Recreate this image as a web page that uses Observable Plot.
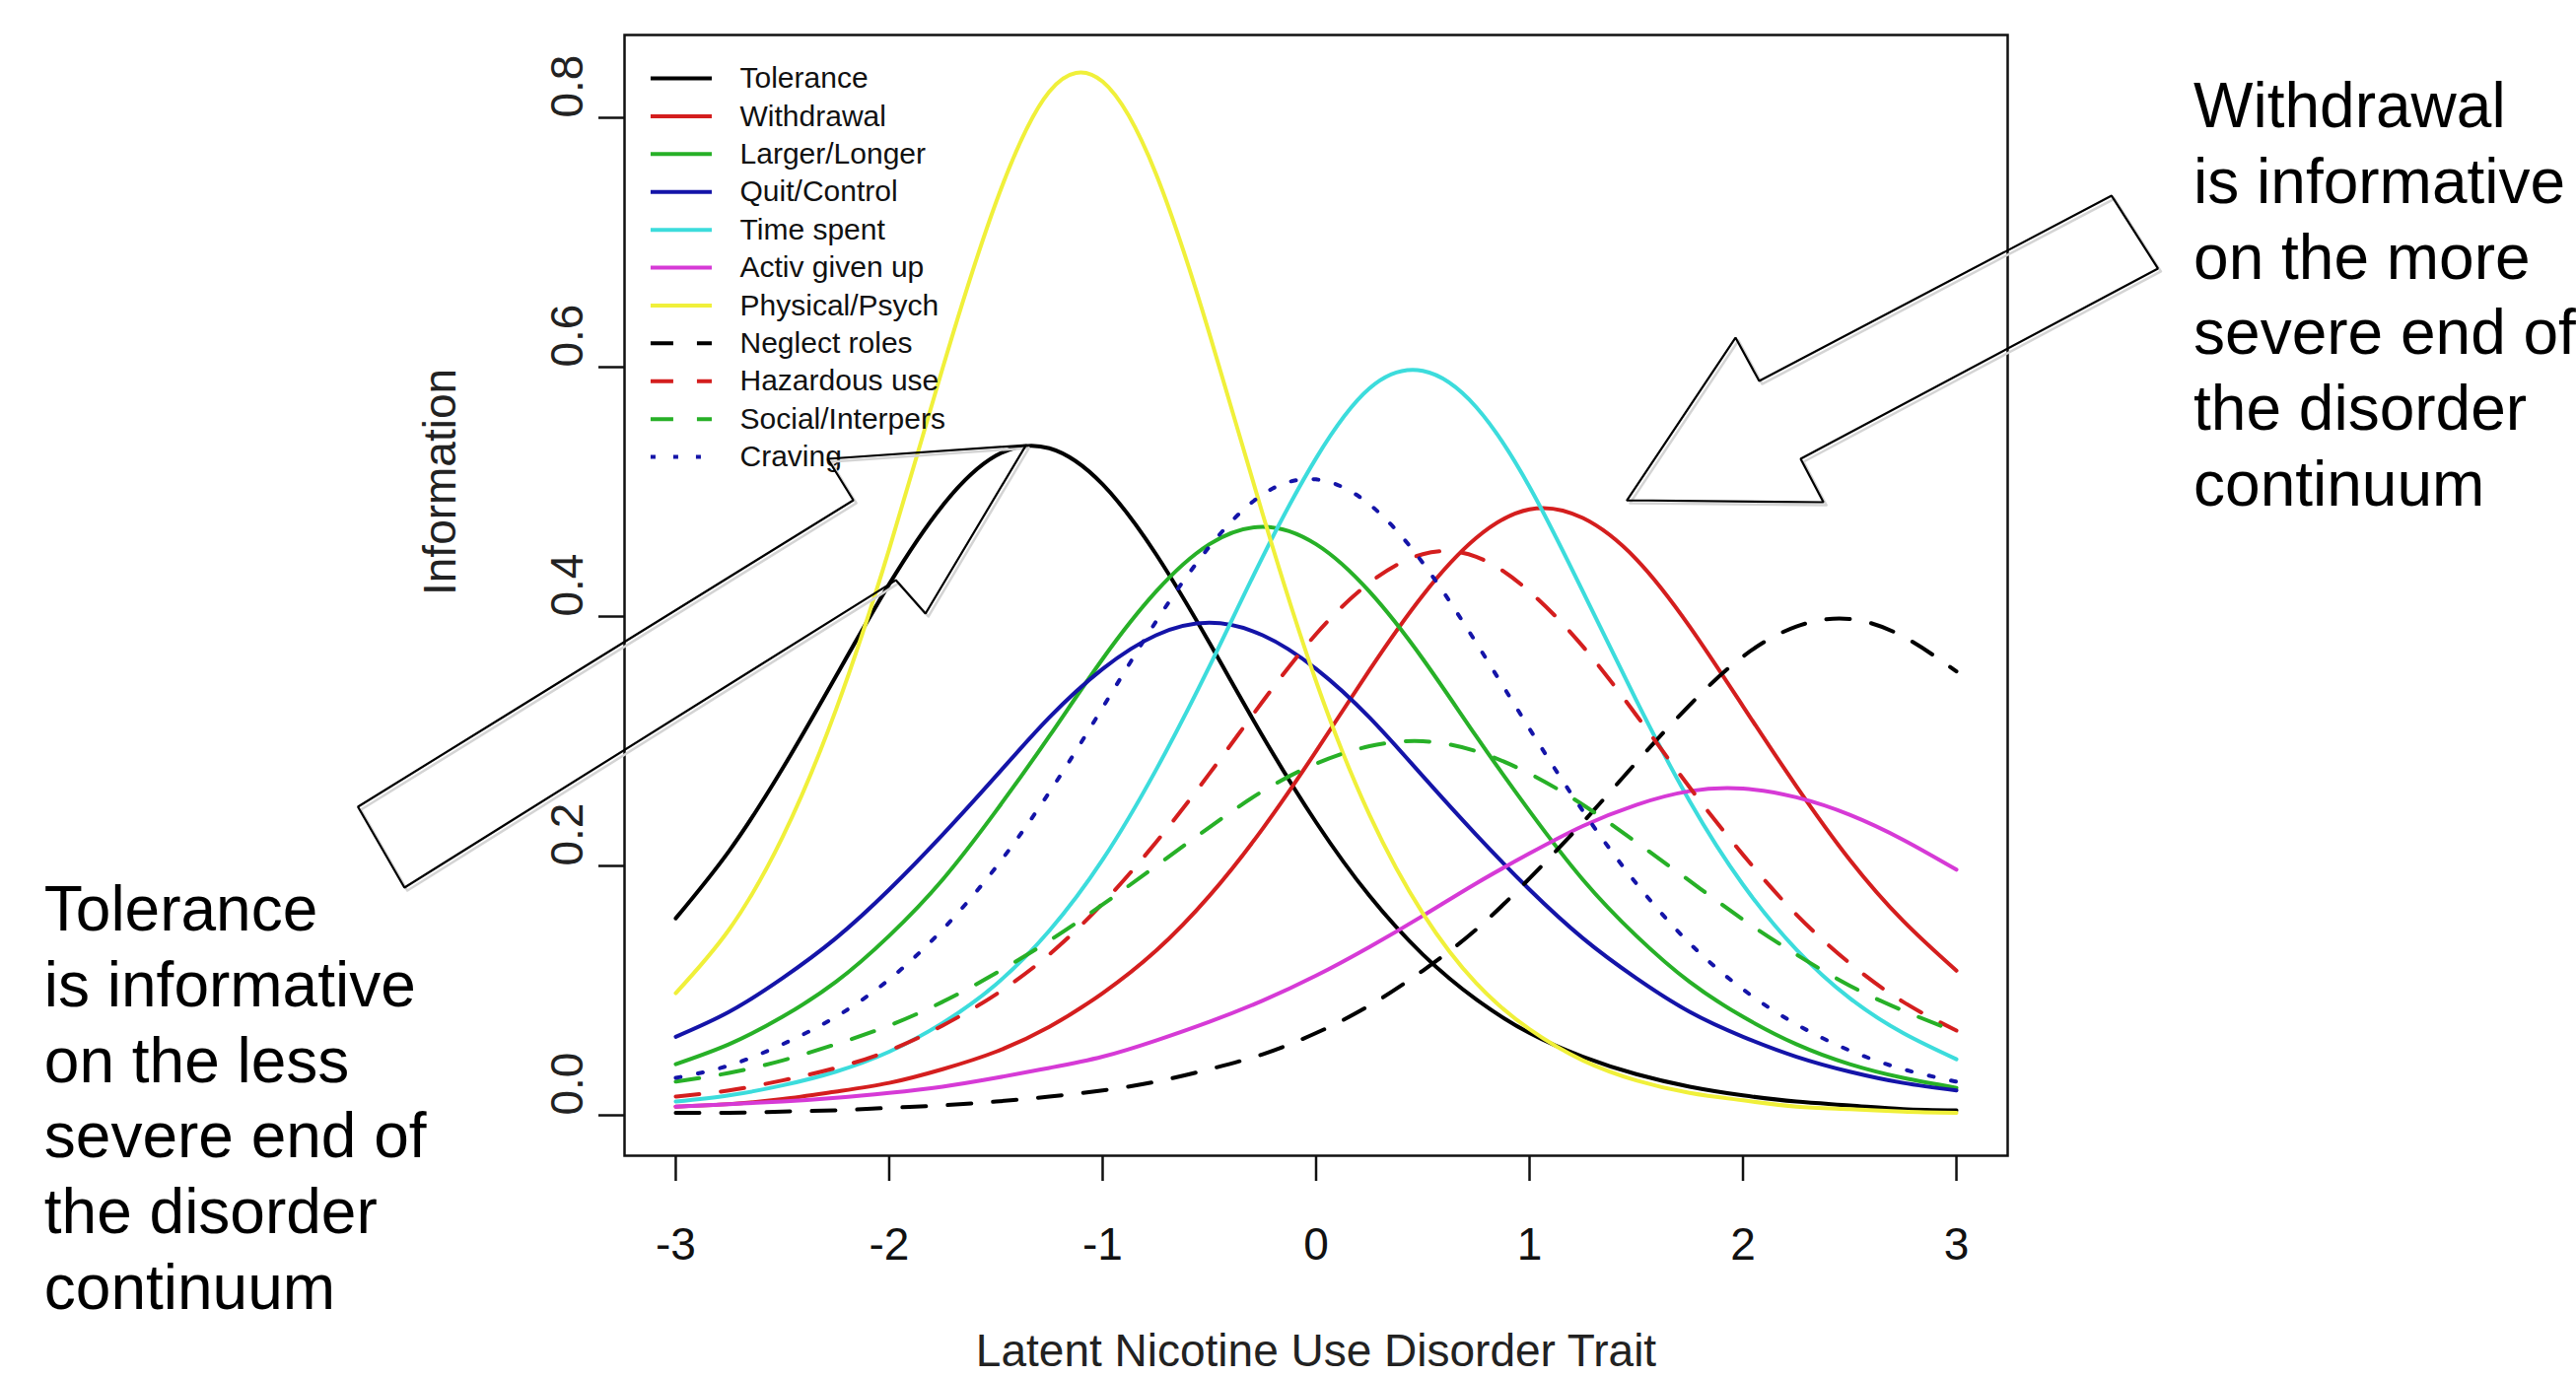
<!DOCTYPE html>
<html><head><meta charset="utf-8">
<script src="https://cdn.jsdelivr.net/npm/d3@7"></script>
<script src="https://cdn.jsdelivr.net/npm/@observablehq/plot@0.6"></script>
<style>body{margin:0;background:#fff}</style>
</head><body><div id="chart"></div>
<script>
// ---- data ----
const theta = [-3,-2.75,-2.5,-2.25,-2,-1.75,-1.5,-1.25,-1,-0.75,-0.5,-0.25,0,0.25,0.5,0.75,1,1.25,1.5,1.75,2,2.25,2.5,2.75,3];
const tolerance  = [0.158,0.212,0.278,0.352,0.426,0.489,0.529,0.535,0.506,0.450,0.379,0.304,0.235,0.176,0.129,0.093,0.066,0.047,0.033,0.023,0.016,0.011,0.008,0.005,0.004];
const withdrawal = [0.007,0.009,0.013,0.019,0.026,0.037,0.051,0.071,0.098,0.132,0.176,0.230,0.292,0.357,0.417,0.463,0.486,0.479,0.446,0.392,0.328,0.264,0.205,0.156,0.116];
const largerLonger = [0.041,0.057,0.079,0.107,0.144,0.189,0.244,0.304,0.366,0.420,0.458,0.472,0.458,0.420,0.366,0.304,0.244,0.189,0.144,0.107,0.079,0.057,0.041,0.030,0.022];
const quitControl = [0.063,0.083,0.110,0.142,0.181,0.225,0.272,0.319,0.358,0.385,0.395,0.385,0.358,0.319,0.272,0.225,0.181,0.142,0.110,0.083,0.063,0.047,0.035,0.026,0.020];
const timeSpent  = [0.011,0.016,0.024,0.035,0.051,0.074,0.105,0.148,0.205,0.277,0.360,0.448,0.527,0.583,0.597,0.568,0.504,0.420,0.333,0.252,0.185,0.133,0.094,0.066,0.045];
const activGivenUp = [0.007,0.009,0.011,0.014,0.018,0.023,0.030,0.038,0.047,0.060,0.075,0.092,0.112,0.135,0.160,0.186,0.210,0.232,0.249,0.260,0.262,0.255,0.241,0.221,0.197];
const physicalPsych = [0.098,0.149,0.223,0.325,0.454,0.599,0.732,0.821,0.829,0.755,0.627,0.482,0.348,0.241,0.162,0.106,0.069,0.044,0.028,0.018,0.012,0.007,0.005,0.003,0.002];
const neglectRoles = [0.002,0.002,0.003,0.004,0.006,0.008,0.011,0.015,0.020,0.027,0.037,0.049,0.066,0.088,0.116,0.149,0.190,0.235,0.283,0.329,0.368,0.392,0.398,0.384,0.356];
const hazardousUse = [0.015,0.020,0.028,0.038,0.052,0.072,0.097,0.129,0.170,0.219,0.274,0.332,0.386,0.427,0.450,0.448,0.420,0.376,0.321,0.263,0.209,0.161,0.122,0.091,0.068];
const socialInterpers = [0.027,0.034,0.044,0.057,0.072,0.091,0.114,0.140,0.169,0.200,0.231,0.260,0.282,0.296,0.300,0.292,0.274,0.249,0.219,0.188,0.157,0.129,0.104,0.084,0.067];
const craving = [0.030,0.040,0.057,0.079,0.109,0.149,0.199,0.259,0.327,0.396,0.456,0.498,0.510,0.490,0.443,0.379,0.310,0.244,0.186,0.138,0.101,0.073,0.052,0.037,0.027];

const seriesNames = ["Tolerance","Withdrawal","Larger/Longer","Quit/Control","Time spent","Activ given up","Physical/Psych","Neglect roles","Hazardous use","Social/Interpers","Craving"];
const seriesValues = [tolerance,withdrawal,largerLonger,quitControl,timeSpent,activGivenUp,physicalPsych,neglectRoles,hazardousUse,socialInterpers,craving];
const seriesColors = ["#000000","#D41E1E","#27B027","#1414A8","#3CDCDC","#D63AD6","#F0F03A","#000000","#D41E1E","#27B027","#1414A8"];
const seriesDash = [null,null,null,null,null,null,null,"24,22","24,22","24,22","5,18"];
const legendDash = [null,null,null,null,null,null,null,"23,24","23,24","23,24","5,18"];

const xTicks = [-3,-2,-1,0,1,2,3];
const yTicks = [0,0.2,0.4,0.6,0.8];
const xTitle = "Latent Nicotine Use Disorder Trait";
const yTitle = "Information";

const leftNote = ["Tolerance","is informative","on the less","severe end of","the disorder","continuum"];
const rightNote = ["Withdrawal","is informative","on the more","severe end of","the disorder","continuum"];

// annotation block arrows, in data units
const leftArrow = [[-1.359,0.5375],[-2.288,0.5265],[-2.168,0.4933],[-4.489,0.2474],[-4.271,0.1826],[-1.969,0.4292],[-1.830,0.4024],[-1.359,0.5375]];
const rightArrow = [[1.457,0.4933],[2.377,0.4917],[2.270,0.5265],[3.944,0.6791],[3.727,0.7375],[2.076,0.5889],[1.965,0.6237],[1.457,0.4933]];

// ---- build ----
const font = "'Liberation Sans', Arial, sans-serif";
const rows = seriesNames.map((name, s) => theta.map((t, i) => ({name, theta: t, info: seriesValues[s][i]})));

const legendTop = 0.8316, legendStep = 0.03036;
const legendRows = seriesNames.map((name, i) => ({name, i, y: legendTop - legendStep * i}));

const curveMarks = rows.map((r, s) => Plot.line(r, {
  x: "theta", y: "info", stroke: seriesColors[s], strokeWidth: 4,
  strokeDasharray: seriesDash[s] || undefined, curve: "natural"
}));
const legendLineMarks = legendRows.map((d, s) => Plot.ruleY([d], {
  y: "y", x1: () => -3.1156, x2: () => -2.829, stroke: seriesColors[s], strokeWidth: 4,
  strokeDasharray: legendDash[s] || undefined
}));

const arrowMarks = [leftArrow, rightArrow].flatMap(a => [
  Plot.line(a, {x: d => d[0], y: d => d[1], stroke: "#d4d4d4", strokeWidth: 2.5, dx: 3, dy: 3, fill: "none"}),
  Plot.line(a, {x: d => d[0], y: d => d[1], stroke: "#000", strokeWidth: 2.2, fill: "none", strokeLinejoin: "miter"})
]);

const chart = Plot.plot({
  width: 2613, height: 1397,
  marginLeft: 633, marginRight: 577, marginTop: 35, marginBottom: 225,
  x: {domain: [-3.24, 3.24]},
  y: {domain: [-0.0324, 0.8664]},
  style: {fontFamily: font, fontSize: "46px", color: "#111", background: "#fff", overflow: "visible"},
  marks: [
    Plot.axisX({ticks: xTicks, tickSize: 26, tickPadding: 47, tickFormat: d => String(d), fontSize: 46, label: null, strokeWidth: 2.5}),
    Plot.axisY({ticks: yTicks, tickSize: 26, tickFormat: () => "", label: null, strokeWidth: 2.5}),
    Plot.text(yTicks, {y: d => d, frameAnchor: "left", dx: -57, rotate: -90, text: d => d.toFixed(1), fontSize: 46, fill: "#222"}),
    Plot.text([xTitle], {frameAnchor: "bottom", dy: 181, lineAnchor: "top", fontSize: 46, fill: "#222"}),
    Plot.text([yTitle], {frameAnchor: "left", dx: -186, rotate: -90, fontSize: 46, fill: "#222"}),
    ...curveMarks,
    ...legendLineMarks,
    Plot.text(legendRows, {x: () => -2.6995, y: "y", text: "name", textAnchor: "start", fontSize: 30, fill: "#111"}),
    Plot.frame({stroke: "#111", strokeWidth: 2.5}),
    ...arrowMarks,
    Plot.text([leftNote.join("\n")], {x: () => -5.959, y: () => 0.1913, textAnchor: "start", lineAnchor: "top", lineHeight: 1.2, fontSize: 64, fill: "#000"}),
    Plot.text([rightNote.join("\n")], {x: () => 4.111, y: () => 0.8356, textAnchor: "start", lineAnchor: "top", lineHeight: 1.2, fontSize: 64, fill: "#000"})
  ]
});
document.getElementById("chart").appendChild(chart);
</script>
</body></html>
